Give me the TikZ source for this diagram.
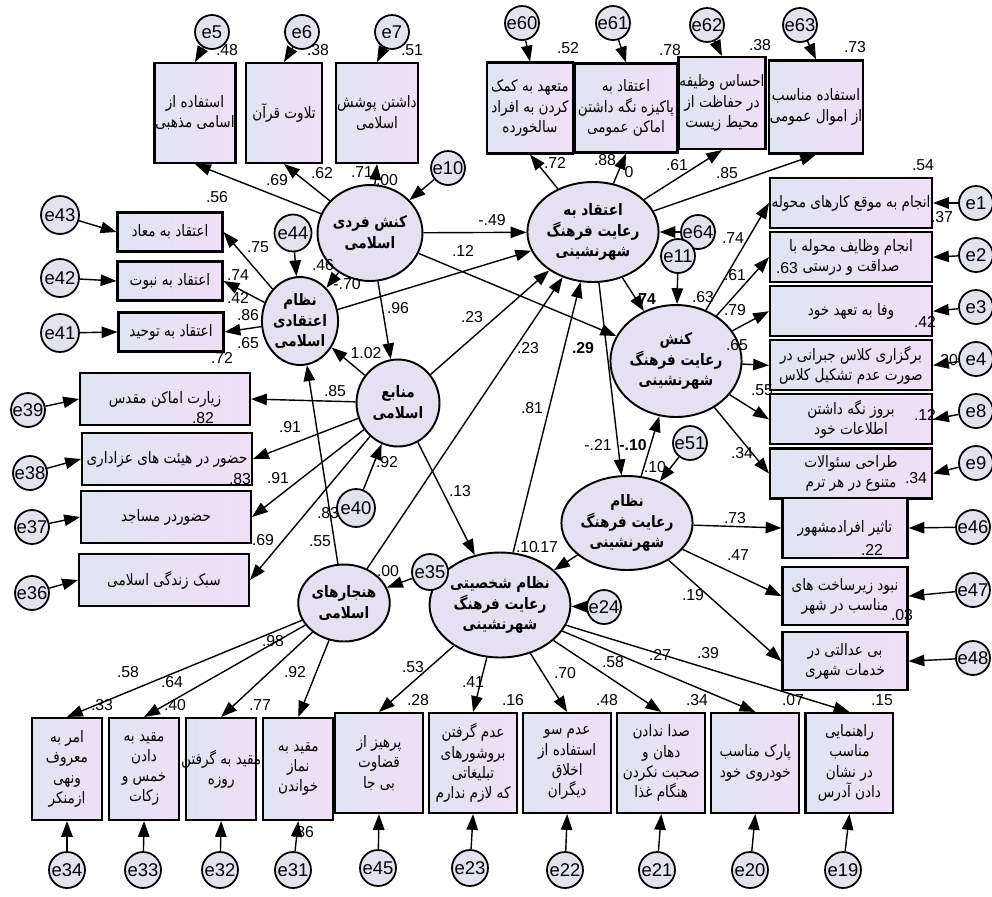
\documentclass[tikz,border=0pt]{standalone}
\usepackage{fontspec}
\setmainfont{Liberation Sans}
\newfontfamily\fafont[Script=Arabic, FakeStretch=0.86]{DejaVu Sans}
\TeXXeTstate=1
\usetikzlibrary{arrows.meta, shapes.geometric, positioning}
\definecolor{obsleft}{RGB}{224,228,241}
\definecolor{obsright}{RGB}{240,223,247}
\definecolor{latfill}{RGB}{229,225,241}
\definecolor{errfill}{RGB}{227,227,239}
\newcommand{\fa}[1]{\beginR #1\endR}
\newcommand{\fawide}[1]{\makebox[0pt]{\beginR #1\endR}}
\tikzset{
    obsbox/.style={rectangle, draw=black, line width=1.2pt, left color=obsleft, right color=obsright, align=center, inner sep=0.5pt, font=\fafont\fontsize{9}{11.5}\selectfont},
    latent/.style={ellipse, draw=black, line width=1.1pt, fill=latfill, align=center, inner sep=0pt, font=\fafont\bfseries\fontsize{9}{11.5}\selectfont},
    errnode/.style={circle, draw=black, line width=1pt, fill=errfill, minimum size=0.68cm, inner sep=0pt, font=\fontsize{10.5}{10.5}\selectfont},
    coef/.style={inner sep=0pt, font=\fontsize{9}{9}\selectfont},
    regarrow/.style={-{Triangle[length=9pt, width=6.5pt]}, line width=0.8pt},
}

\begin{document}
\begin{tikzpicture}[
    x=0.02cm, y=-0.02cm,
    tallbox/.style={obsbox, minimum width=1.52cm, minimum height=2cm},
    topbox/.style={obsbox, minimum width=1.74cm, minimum height=1.84cm},
    rowbox/.style={obsbox, minimum width=3.24cm, minimum height=1cm},
    beliefbox/.style={obsbox, minimum width=2.1cm, minimum height=0.78cm},
    sourcebox/.style={obsbox, minimum width=3.4cm, minimum height=1.04cm},
    cityboxes/.style={obsbox, minimum width=2.5cm, minimum height=1.16cm},
    normbox/.style={obsbox, minimum width=1.4cm, minimum height=2.04cm},
    habitbox/.style={obsbox, minimum width=1.76cm, minimum height=2cm}
]
\useasboundingbox (0,0) rectangle (992,897);

% latent variables
\node[latent, minimum width=1.66cm, minimum height=1.92cm] (kf) at (370,233) {\fa{کنش فردی}\\\fa{اسلامی}};
\node[latent, minimum width=1.5cm, minimum height=1.76cm] (ne) at (300,321) {\fa{نظام}\\\fa{اعتقادی}\\\fa{اسلامی}};
\node[latent, minimum width=1.66cm, minimum height=1.74cm] (mn) at (398,403) {\fa{منابع}\\\fa{اسلامی}};
\node[latent, minimum width=1.56cm, minimum height=1.54cm] (hn) at (344,603) {\fa{هنجارهای}\\\fa{اسلامی}};
\node[latent, minimum width=2.14cm, minimum height=2cm] (at) at (593,232) {\fa{اعتقاد به}\\\fa{رعایت فرهنگ}\\\fa{شهرنشینی}};
\node[latent, minimum width=1.96cm, minimum height=2.24cm] (kr) at (676,361) {\fa{کنش}\\\fa{رعایت فرهنگ}\\\fa{شهرنشینی}};
\node[latent, minimum width=2.04cm, minimum height=1.88cm] (nr) at (627,523) {\fa{نظام}\\\fa{رعایت فرهنگ}\\\fa{شهرنشینی}};
\node[latent, minimum width=1.9cm, minimum height=2.1cm] (ns) at (500,605) {\fa{نظام شخصیتی}\\\fa{رعایت فرهنگ}\\\fa{شهرنشینی}};

% observed variables
\node[tallbox] (a1) at (195,113) {\fa{استفاده از}\\\fa{اسامی مذهبی}};
\node[tallbox] (a2) at (284,113) {\fa{تلاوت قرآن}};
\node[tallbox] (a3) at (377,113) {\fa{داشتن پوشش}\\\fa{اسلامی}};

\node[topbox, minimum width=1.72cm, minimum height=1.82cm] (b1) at (530,108) {\fa{متعهد به کمک}\\\fa{کردن به افراد}\\\fa{سالخورده}};
\node[topbox, minimum width=2.06cm, minimum height=1.78cm] (b2) at (626,108) {\fa{اعتقاد به}\\\fawide{پاکیزه نگه داشتن}\\\fa{اماکن عمومی}};
\node[topbox] (b3) at (722,103) {\fa{احساس وظیفه}\\\fa{در حفاظت از}\\\fa{محیط زیست}};
\node[topbox, minimum height=1.86cm] (b4) at (816,107) {\fa{استفاده مناسب}\\\fa{از اموال عمومی}};

\node[rowbox] (c1) at (851,203) {\fa{انجام به موقع کارهای محوله}};
\node[rowbox, below=0.04cm of c1] (c2) {\fa{انجام وظایف محوله با}\\\fa{صداقت و درستی}};
\node[rowbox, below=0.04cm of c2] (c3) {\fa{وفا به تعهد خود}};
\node[rowbox, below=0.04cm of c3] (c4) {\fa{برگزاری کلاس جبرانی در}\\\fa{صورت عدم تشکیل کلاس}};
\node[rowbox, below=0.04cm of c4] (c5) {\fa{بروز نگه داشتن}\\\fa{اطلاعات خود}};
\node[rowbox, below=0.04cm of c5] (c6) {\fa{طراحی سئوالات}\\\fa{متنوع در هر ترم}};

\node[beliefbox] (d1) at (170,232) {\fa{اعتقاد به معاد}};
\node[beliefbox] (d2) at (170,281) {\fa{اعتقاد به نبوت}};
\node[beliefbox] (d3) at (171,332) {\fa{اعتقاد به توحید}};

\node[sourcebox] (s1) at (165,399) {\fa{زیارت اماکن مقدس}};
\node[sourcebox] (s2) at (167,459) {\fawide{حضور در هیئت های عزاداری}};
\node[sourcebox] (s3) at (166,517) {\fa{حضوردر مساجد}};
\node[sourcebox] (s4) at (164,580) {\fa{سبک زندگی اسلامی}};

\node[cityboxes, minimum height=1.2cm] (f1) at (845,528) {\fa{تاثیر افرادمشهور}};
\node[cityboxes, below=0.14cm of f1] (f2) {\fa{نبود زیرساخت های}\\\fa{مناسب در شهر}};
\node[cityboxes, below=0.1cm of f2] (f3) {\fa{بی عدالتی در}\\\fa{خدمات شهری}};

\node[normbox] (g1) at (67,769) {\fa{امر به}\\\fa{معروف}\\\fa{ونهی}\\\fa{ازمنکر}};
\node[normbox, right=0.1cm of g1] (g2) {\fa{مقید به}\\\fa{دادن}\\\fa{خمس و}\\\fa{زکات}};
\node[normbox, right=0.1cm of g2] (g3) {\fawide{مقید به گرفتن}\\\fa{روزه}};
\node[normbox, right=0.1cm of g3] (g4) {\fa{مقید به}\\\fa{نماز}\\\fa{خواندن}};
\node[habitbox] (g5) at (379,763) {\fa{پرهیز از}\\\fa{قضاوت}\\\fa{بی جا}};
\node[habitbox, right=0.08cm of g5] (g6) {\fa{عدم گرفتن}\\\fa{بروشورهای}\\\fa{تبلیغاتی}\\\fawide{که لازم ندارم}};
\node[habitbox, right=0.08cm of g6] (g7) {\fa{عدم سو}\\\fa{استفاده از}\\\fa{اخلاق}\\\fa{دیگران}};
\node[habitbox, right=0.08cm of g7] (g8) {\fa{صدا ندادن}\\\fa{دهان و}\\\fawide{صحبت نکردن}\\\fa{هنگام غذا}};
\node[habitbox, right=0.08cm of g8] (g9) {\fa{پارک مناسب}\\\fa{خودروی خود}};
\node[habitbox, right=0.08cm of g9] (g10) {\fa{راهنمایی}\\\fa{مناسب}\\\fa{در نشان}\\\fa{دادن آدرس}};

% error terms
\node[errnode] (e5) at (212,32) {e5};
\node[errnode] (e6) at (302,32) {e6};
\node[errnode] (e7) at (392,32) {e7};
\node[errnode] (e10) at (448,168) {e10};
\node[errnode] (e60) at (522,23) {e60};
\node[errnode] (e61) at (613,23) {e61};
\node[errnode] (e62) at (707,25) {e62};
\node[errnode] (e63) at (800,25) {e63};
\node[errnode] (e64) at (698,232) {e64};
\node[errnode] (e11) at (678,256) {e11};
\node[errnode] (e1) at (976,203) {e1};
\node[errnode] (e2) at (976,255) {e2};
\node[errnode] (e3) at (976,307) {e3};
\node[errnode] (e4) at (976,359) {e4};
\node[errnode] (e8) at (976,411) {e8};
\node[errnode] (e9) at (976,463) {e9};
\node[errnode, minimum size=0.76cm] (e43) at (60,215) {e43};
\node[errnode, minimum size=0.76cm] (e42) at (60,278) {e42};
\node[errnode, minimum size=0.76cm] (e41) at (60,333) {e41};
\node[errnode, minimum size=0.74cm] (e44) at (293,233) {e44};
\node[errnode] (e39) at (28,410) {e39};
\node[errnode] (e38) at (30,473) {e38};
\node[errnode] (e37) at (32,527) {e37};
\node[errnode] (e36) at (32,593) {e36};
\node[errnode, minimum size=0.76cm] (e40) at (356,508) {e40};
\node[errnode, minimum size=0.72cm] (e35) at (430,572) {e35};
\node[errnode] (e24) at (604,607) {e24};
\node[errnode] (e51) at (690,443) {e51};
\node[errnode] (e46) at (973,527) {e46};
\node[errnode] (e47) at (973,590) {e47};
\node[errnode] (e48) at (973,658) {e48};
\node[errnode, minimum size=0.72cm] (e34) at (67,870) {e34};
\node[errnode, minimum size=0.72cm] (e33) at (143,870) {e33};
\node[errnode, minimum size=0.72cm] (e32) at (220,870) {e32};
\node[errnode, minimum size=0.72cm] (e31) at (293,870) {e31};
\node[errnode, minimum size=0.72cm] (e45) at (378,868) {e45};
\node[errnode, minimum size=0.72cm] (e23) at (470,868) {e23};
\node[errnode, minimum size=0.72cm] (e22) at (565,870) {e22};
\node[errnode, minimum size=0.72cm] (e21) at (657,870) {e21};
\node[errnode, minimum size=0.72cm] (e20) at (750,870) {e20};
\node[errnode, minimum size=0.72cm] (e19) at (843,870) {e19};

% structural paths
\draw[regarrow] (kf) -- (at);
\draw[regarrow] (kf) -- (kr);
\draw[regarrow] (kf) -- (ne);
\draw[regarrow] (kf) -- (mn);
\draw[regarrow] (ne) -- (at);
\draw[regarrow] (mn) -- (ne);
\draw[regarrow] (mn) -- (at);
\draw[regarrow] (mn) -- (ns);
\draw[regarrow] (hn) -- (ne);
\draw[regarrow] (hn) -- (at);
\draw[regarrow] (ns) -- (at);
\draw[regarrow] (at) -- (kr);
\draw[regarrow] (at) -- (nr);
\draw[regarrow] (nr) -- (kr);
\draw[regarrow] (nr) -- (ns);

% loadings
\draw[regarrow] (kf) -- (a1.south);
\draw[regarrow] (kf) -- (a2.south);
\draw[regarrow] (kf) -- (a3.south);
\draw[regarrow] (at) -- (b1.south);
\draw[regarrow] (at) -- (b2.south);
\draw[regarrow] (at) -- (b3.south);
\draw[regarrow] (at) -- (b4.south);
\draw[regarrow] (kr) -- (c1.west);
\draw[regarrow] (kr) -- (c2.west);
\draw[regarrow] (kr) -- (c3.west);
\draw[regarrow] (kr) -- (c4.west);
\draw[regarrow] (kr) -- (c5.west);
\draw[regarrow] (kr) -- (c6.west);
\draw[regarrow] (ne) -- (d1.east);
\draw[regarrow] (ne) -- (d2.east);
\draw[regarrow] (ne) -- (d3.east);
\draw[regarrow] (mn) -- (s1.east);
\draw[regarrow] (mn) -- (s2.east);
\draw[regarrow] (mn) -- (s3.east);
\draw[regarrow] (mn) -- (s4.east);
\draw[regarrow] (nr) -- (f1.west);
\draw[regarrow] (nr) -- (f2.west);
\draw[regarrow] (nr) -- (f3.west);
\draw[regarrow] (hn) -- (g1.north);
\draw[regarrow] (hn) -- (g2.north);
\draw[regarrow] (hn) -- (g3.north);
\draw[regarrow] (hn) -- (g4.north);
\draw[regarrow] (ns) -- (g5.north);
\draw[regarrow] (ns) -- (g6.north);
\draw[regarrow] (ns) -- (g7.north);
\draw[regarrow] (ns) -- (g8.north);
\draw[regarrow] (ns) -- (g9.north);
\draw[regarrow] (ns) -- (g10.north);

% error paths
\draw[regarrow] (e5) -- (a1.north);
\draw[regarrow] (e6) -- (a2.north);
\draw[regarrow] (e7) -- (a3.north);
\draw[regarrow] (e10) -- (kf);
\draw[regarrow] (e60) -- (b1.north);
\draw[regarrow] (e61) -- (b2.north);
\draw[regarrow] (e62) -- (b3.north);
\draw[regarrow] (e63) -- (b4.north);
\draw[regarrow] (e64) -- (at);
\draw[regarrow] (e11) -- (kr);
\draw[regarrow] (e1) -- (c1.east);
\draw[regarrow] (e2) -- (c2.east);
\draw[regarrow] (e3) -- (c3.east);
\draw[regarrow] (e4) -- (c4.east);
\draw[regarrow] (e8) -- (c5.east);
\draw[regarrow] (e9) -- (c6.east);
\draw[regarrow] (e43) -- (d1.west);
\draw[regarrow] (e42) -- (d2.west);
\draw[regarrow] (e41) -- (d3.west);
\draw[regarrow] (e44) -- (ne);
\draw[regarrow] (e39) -- (s1.west);
\draw[regarrow] (e38) -- (s2.west);
\draw[regarrow] (e37) -- (s3.west);
\draw[regarrow] (e36) -- (s4.west);
\draw[regarrow] (e40) -- (mn);
\draw[regarrow] (e35) -- (hn);
\draw[regarrow] (e24) -- (ns);
\draw[regarrow] (e51) -- (nr);
\draw[regarrow] (e46) -- (f1.east);
\draw[regarrow] (e47) -- (f2.east);
\draw[regarrow] (e48) -- (f3.east);
\draw[regarrow] (e34) -- (g1.south);
\draw[regarrow] (e33) -- (g2.south);
\draw[regarrow] (e32) -- (g3.south);
\draw[regarrow] (e31) -- (g4.south);
\draw[regarrow] (e45) -- (g5.south);
\draw[regarrow] (e23) -- (g6.south);
\draw[regarrow] (e22) -- (g7.south);
\draw[regarrow] (e21) -- (g8.south);
\draw[regarrow] (e20) -- (g9.south);
\draw[regarrow] (e19) -- (g10.south);

% estimates
\node[coef] (a1-r2) at (227,50) {.48};
\node[coef] (a2-r2) at (318,50) {.38};
\node[coef] (a3-r2) at (412,50) {.51};
\node[coef] (a1-ld) at (217,197) {.56};
\node[coef] (a2-ld) at (277,180) {.69};
\node[coef] (a3-ld) at (322,173) {.62};
\node[coef] (a4-ld) at (362,172) {.71};
\node[coef] (kf-r2) at (387,180) {.00};
\node[coef] (b1-r2) at (568,48) {.52};
\node[coef] (b2-r2) at (670,50) {.78};
\node[coef] (b3-r2) at (760,45) {.38};
\node[coef] (b4-r2) at (855,47) {.73};
\node[coef] (b1-ld) at (555,163) {.72};
\node[coef] (b2-ld) at (605,160) {.88};
\node[coef] (b2-ldx) at (629,172) {0};
\node[coef] (b3-ld) at (677,165) {.61};
\node[coef] (b4-ld) at (727,173) {.85};
\node[coef] (c1-r2) at (923,165) {.54};
\node[coef] (c2-r2) at (942,217) {.37};
\node[coef] (c3-r2) at (787,268) {.63};
\node[coef] (c4-r2) at (925,322) {.42};
\node[coef] (c5-r2) at (947,360) {.30};
\node[coef] (c6-r2) at (925,415) {.12};
\node[coef] (c7-r2) at (916,478) {.34};
\node[coef] (c1-ld) at (733,238) {.74};
\node[coef] (c2-ld) at (735,275) {.61};
\node[coef] (c3-ld) at (703,297) {.63};
\node[coef] (c4-ld) at (735,310) {.79};
\node[coef] (c5-ld) at (737,345) {.65};
\node[coef] (c6-ld) at (762,390) {.55};
\node[coef] (c7-ld) at (742,453) {.34};
\node[coef] (d1-ld) at (258,247) {.75};
\node[coef] (d2-ld) at (238,275) {.74};
\node[coef] (d2-r2) at (238,298) {.42};
\node[coef] (d3-ld) at (248,315) {.86};
\node[coef] (d3-r2) at (248,343) {.65};
\node[coef] (ne-r2) at (222,358) {.72};
\node[coef] (kf-ne) at (323,265) {.46};
\node[coef] (kf-ne2) at (347,284) {-.70};
\node[coef] (ne-at) at (463,251) {.12};
\node[coef] (kf-at) at (492,220) {-.49};
\node[coef] (kf-mn) at (398,308) {.96};
\node[coef] (mn-at) at (472,317) {.23};
\node[coef] (mn-ne) at (366,353) {1.02};
\node[coef] (s1-ld) at (335,391) {.85};
\node[coef] (s1-r2) at (203,418) {.82};
\node[coef] (s2-ld) at (290,427) {.91};
\node[coef] (hn-at) at (528,348) {.23};
\node[coef, font=\fontsize{9}{9}\selectfont\bfseries] (at-r2) at (583,348) {.29};
\node[coef] (ns-at) at (532,408) {.81};
\node[coef, font=\fontsize{9}{9}\selectfont\bfseries] (at-kr) at (645,299) {.74};
\node[coef] (s2-r2) at (240,479) {.83};
\node[coef] (s3-ld) at (278,478) {.91};
\node[coef] (mn-r2) at (387,462) {.92};
\node[coef] (s3-r2) at (328,513) {.83};
\node[coef] (s4-ld) at (263,540) {.69};
\node[coef] (hn-ne) at (320,541) {.55};
\node[coef] (mn-ns) at (460,491) {.13};
\node[coef] (hn-r2) at (388,571) {.00};
\node[coef] (ns-r2) at (527,547) {.10};
\node[coef] (nr-ns) at (547,547) {.17};
\node[coef] (at-nr) at (598,445) {-.21};
\node[coef, font=\fontsize{9}{9}\selectfont\bfseries] (nr-kr) at (633,445) {-.10};
\node[coef] (nr-r2) at (655,467) {.10};
\node[coef] (f3-ld) at (693,595) {.19};
\node[coef] (f1-ld) at (735,518) {.73};
\node[coef] (f2-ld) at (738,555) {.47};
\node[coef] (f1-r2) at (872,550) {.22};
\node[coef] (f2-r2) at (902,615) {.03};
\node[coef] (g3-ld) at (273,641) {.98};
\node[coef] (g1-ld) at (128,672) {.58};
\node[coef] (g2-ld) at (172,682) {.64};
\node[coef] (g1-r2) at (102,705) {.33};
\node[coef] (g2-r2) at (175,705) {.40};
\node[coef] (g4-ld) at (295,672) {.92};
\node[coef] (g3-r2) at (260,705) {.77};
\node[coef] (g4-r2) at (303,832) {.86};
\node[coef] (g5-ld) at (413,667) {.53};
\node[coef] (g6-ld) at (473,682) {.41};
\node[coef] (g5-r2) at (418,700) {.28};
\node[coef] (g6-r2) at (513,700) {.16};
\node[coef] (g7-ld) at (565,673) {.70};
\node[coef] (g8-ld) at (613,662) {.58};
\node[coef] (g9-ld) at (660,655) {.27};
\node[coef] (g10-ld) at (708,653) {.39};
\node[coef] (g7-r2) at (607,700) {.48};
\node[coef] (g8-r2) at (697,700) {.34};
\node[coef] (g9-r2) at (793,700) {.07};
\node[coef] (g10-r2) at (882,700) {.15};

\end{tikzpicture}
\end{document}
